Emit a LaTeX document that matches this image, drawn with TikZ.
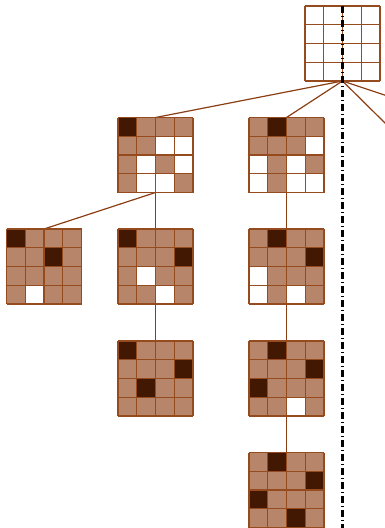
\documentclass[tikz,border=0pt]{standalone}
\definecolor{qD}{RGB}{66,24,2}
\definecolor{qT}{RGB}{183,133,106}
\definecolor{qW}{RGB}{255,255,255}
\definecolor{edgebrown}{RGB}{139,62,20}
\definecolor{gridbrown}{RGB}{150,75,30}
\tikzset{
  board/.style={minimum size=75pt, inner sep=0pt, outer sep=0pt},
  gl/.style={draw=gridbrown, line width=1.1pt},
  treeedge/.style={draw=edgebrown, line width=1.2pt},
  axis/.style={draw=black, line width=2.3pt, dash pattern=on 7pt off 3pt on 1pt off 3pt}
}
\newcommand\qboard[2]{%
  \foreach \c [count=\i from 0] in {#2} {%
    \pgfmathtruncatemacro\rr{int(\i/4)}%
    \pgfmathtruncatemacro\cc{mod(\i,4)}%
    \fill[q\c] ([shift={(\cc*18.75,\rr*18.75)}]#1.north west) rectangle ++(18.75,18.75);
  }%
  \foreach \k in {0,...,4} {%
    \draw[gl] ([shift={(\k*18.75,0)}]#1.north west) -- ++(0,75);
    \draw[gl] ([shift={(0,\k*18.75)}]#1.north west) -- ++(75,0);
  }%
}
\begin{document}
\begin{tikzpicture}[x=1pt,y=-1pt]
\useasboundingbox (0,0) rectangle (385,528);
\clip (0,0) rectangle (385,528);
% board nodes
\node[board] (root) at (342.5,43.5) {};
\node[board] (A) at (155.5,155) {};
\node[board] (B) at (286.5,155) {};
\node[board] (C) at (44,266.5) {};
\node[board] (D) at (155.5,266.5) {};
\node[board] (E) at (286.5,266.5) {};
\node[board] (F) at (155.5,378.5) {};
\node[board] (G) at (286.5,378.5) {};
\node[board] (H) at (286.5,490) {};
\coordinate (R3) at (386,95.5);
\coordinate (R4) at (386,124);
\coordinate (axtop) at (342.5,6);
\coordinate (axbot) at (342.5,528);
% tree edges
\draw[treeedge] (root.south) -- (A.north);
\draw[treeedge] (root.south) -- (B.north);
\draw[treeedge] (root.south) -- (R3);
\draw[treeedge] (root.south) -- (R4);
\draw[treeedge] (A.south) -- (C.north);
\draw[treeedge] (A.south) -- (D.north);
\draw[treeedge] (B.south) -- (E.north);
\draw[treeedge] (D.south) -- (F.north);
\draw[treeedge] (E.south) -- (G.north);
\draw[treeedge] (G.south) -- (H.north);
% boards
\qboard{root}{W,W,W,W, W,W,W,W, W,W,W,W, W,W,W,W}
\qboard{A}{D,T,T,T, T,T,W,W, T,W,T,W, T,W,W,T}
\qboard{B}{T,D,T,T, T,T,T,W, W,T,W,T, W,T,W,W}
\qboard{C}{D,T,T,T, T,T,D,T, T,T,T,T, T,W,T,T}
\qboard{D}{D,T,T,T, T,T,T,D, T,W,T,T, T,T,W,T}
\qboard{E}{T,D,T,T, T,T,T,D, W,T,T,T, W,T,W,T}
\qboard{F}{D,T,T,T, T,T,T,D, T,D,T,T, T,T,T,T}
\qboard{G}{T,D,T,T, T,T,T,D, D,T,T,T, T,T,W,T}
\qboard{H}{T,D,T,T, T,T,T,D, D,T,T,T, T,T,D,T}
% symmetry axis
\draw[axis] (axtop) -- (axbot);
\end{tikzpicture}
\end{document}
